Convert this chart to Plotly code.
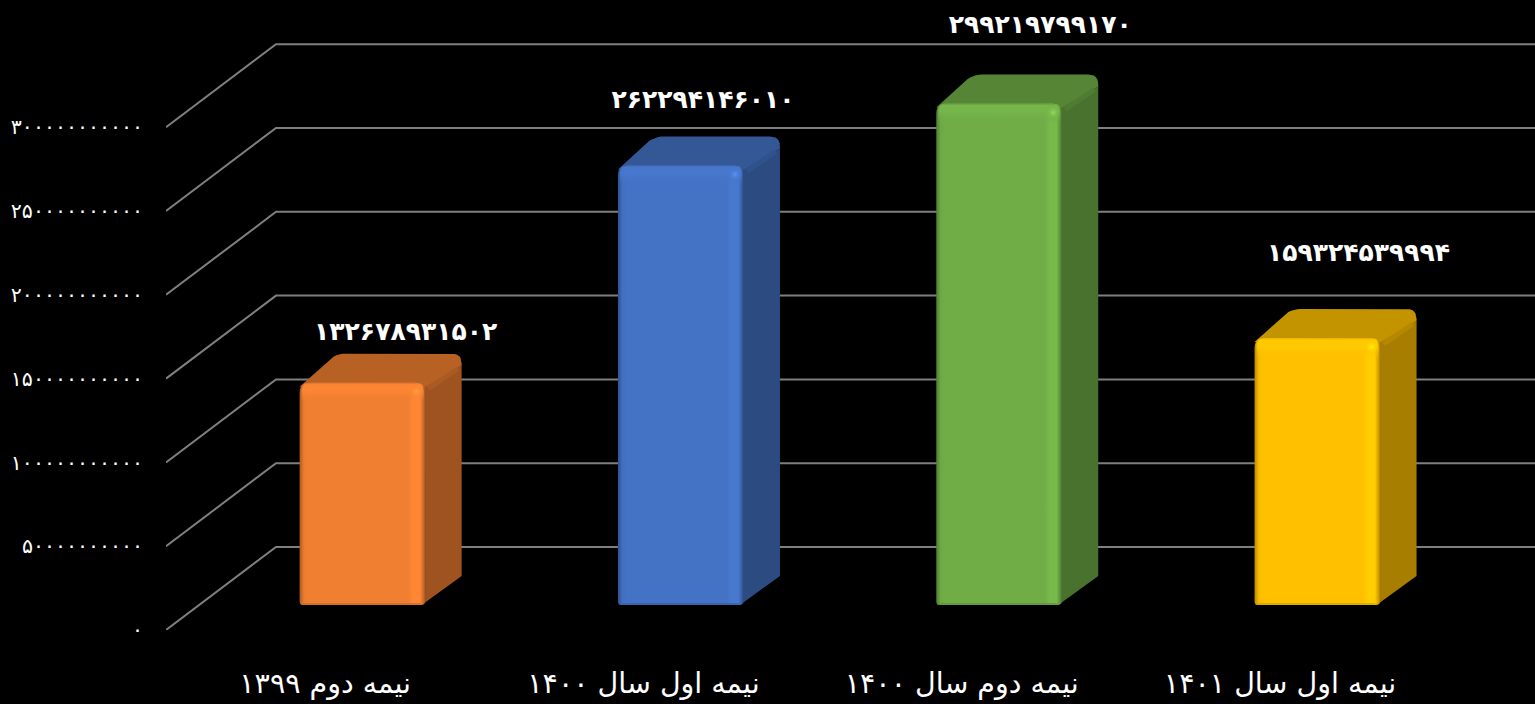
import plotly.graph_objects as go

# ---------- data ----------
categories = ["نیمه دوم ۱۳۹۹", "نیمه اول سال ۱۴۰۰", "نیمه دوم سال ۱۴۰۰", "نیمه اول سال ۱۴۰۱"]
values = [132678931502, 262294146010, 299219799170, 159324539994]
bar_colors = ["#F07F31", "#4472C4", "#70AD47", "#FFC000"]
tick_values = [0, 50000000000, 100000000000, 150000000000, 200000000000, 250000000000, 300000000000]

# ---------- geometry ----------
W, H = 1535, 704
LEFT, BOTTOM = 166, 74
X_PX = 318.3              # px per category
Y_PX = 1.676e-9           # px per value unit
WALL_DX, WALL_DY = 110, 83
BAR_DX, BAR_DY = 37.5, 25
BAR_W = 126
DEPTH_X, DEPTH_Y = 36, 29
label_dx = [43, 22, 41, 41]
label_dy = [20, 35, 48, 54]

FA = str.maketrans("0123456789", "۰۱۲۳۴۵۶۷۸۹")
def fa(v):
    return str(v).translate(FA)

def dx(px):
    return px / X_PX
def dy(px):
    return px / Y_PX

def shade(hex_c, f):
    r, g, b = int(hex_c[1:3], 16), int(hex_c[3:5], 16), int(hex_c[5:7], 16)
    return f"rgb({min(255, int(r * f))},{min(255, int(g * f))},{min(255, int(b * f))})"

def rgba(hex_c, f, a):
    return shade(hex_c, f).replace("rgb(", "rgba(").replace(")", f",{a})")

def rounded(pts, radii, n=6):
    """Closed polygon in (dx px, dy px) offsets with rounded corners."""
    out = []
    m = len(pts)
    for i, (p, r) in enumerate(zip(pts, radii)):
        a, c = pts[i - 1], pts[(i + 1) % m]
        if r == 0:
            out.append(p)
            continue
        la = ((a[0] - p[0]) ** 2 + (a[1] - p[1]) ** 2) ** 0.5
        lc = ((c[0] - p[0]) ** 2 + (c[1] - p[1]) ** 2) ** 0.5
        s = (p[0] + (a[0] - p[0]) * r / la, p[1] + (a[1] - p[1]) * r / la)
        e = (p[0] + (c[0] - p[0]) * r / lc, p[1] + (c[1] - p[1]) * r / lc)
        for k in range(n + 1):
            t = k / n
            out.append(((1 - t) ** 2 * s[0] + 2 * t * (1 - t) * p[0] + t ** 2 * e[0],
                        (1 - t) ** 2 * s[1] + 2 * t * (1 - t) * p[1] + t ** 2 * e[1]))
    out.append(out[0])
    return out

fig = go.Figure()

def poly(cx, base, pts, **kw):
    """pts are px offsets from the data anchor (cx, base); y offset upward."""
    fig.add_trace(go.Scatter(
        x=[cx + dx(p[0]) for p in pts], y=[base + dy(p[1]) for p in pts],
        mode="lines", line=dict(width=0), fill="toself", hoverinfo="skip",
        showlegend=False, **kw))

# ---------- wall grid lines ----------
x_left = -0.5
x_wall = x_left + dx(WALL_DX)
x_right = (W - LEFT) / X_PX - 0.5
grid_x, grid_y = [], []
for v in tick_values:
    grid_x += [x_left, x_wall, x_right, None]
    grid_y += [v, v + dy(WALL_DY), v + dy(WALL_DY), None]
fig.add_trace(go.Scatter(x=grid_x, y=grid_y, mode="lines",
                         line=dict(color="#7F7F7F", width=2), hoverinfo="skip", showlegend=False))

# ---------- bars ----------
for i, (v, c) in enumerate(zip(values, bar_colors)):
    cx = i + dx(BAR_DX)
    base = dy(BAR_DY)
    h = v * Y_PX
    hw = BAR_W / 2
    # side face
    poly(cx, base, [(hw - 4, 0), (hw + DEPTH_X, DEPTH_Y), (hw + DEPTH_X, h + DEPTH_Y - 12),
                    (hw - 4, h - 4), (hw - 4, 0)], fillcolor=shade(c, 0.66))
    # top face, wrapping over the back right corner
    poly(cx, base, rounded([(-hw, h - 4), (-hw + DEPTH_X, h + DEPTH_Y), (hw + DEPTH_X, h + DEPTH_Y),
                            (hw + DEPTH_X, h + DEPTH_Y - 12), (hw, h - 4)], [0, 10, 10, 0, 0]),
         fillcolor=shade(c, 0.77))
    # soft ridge where top and side meet
    fig.add_trace(go.Scatter(
        x=[cx + dx(hw + 3), cx + dx(hw + DEPTH_X - 4)], y=[base + dy(h - 6), base + dy(h + DEPTH_Y - 15)],
        mode="lines", line=dict(color=rgba(c, 0.72, 0.9), width=5),
        hoverinfo="skip", showlegend=False))
    # front face with bevelled left and right edges
    poly(cx, base, rounded([(-hw, 0), (hw, 0), (hw, h), (-hw, h)], [3, 5, 10, 10]),
         fillgradient=dict(type="horizontal", colorscale=[
             [0, shade(c, 0.72)], [0.035, shade(c, 0.98)], [0.07, c], [0.86, c],
             [0.90, shade(c, 1.07)], [0.955, shade(c, 1.07)], [0.985, shade(c, 0.82)], [1, shade(c, 0.62)]]))
    # top bevel
    poly(cx, base, rounded([(-hw + 2, h - 20), (hw - 2, h - 20), (hw - 2, h), (-hw + 2, h)], [0, 0, 9, 9]),
         fillgradient=dict(type="vertical", colorscale=[
             [0, rgba(c, 1.0, 0)], [0.6, rgba(c, 1.06, 0.9)], [0.9, rgba(c, 1.05, 1)], [1, rgba(c, 0.9, 1)]]))
    # bottom edge
    fig.add_trace(go.Scatter(
        x=[cx + dx(-hw + 3), cx + dx(hw - 5)], y=[base + dy(1), base + dy(1)],
        mode="lines", line=dict(color=shade(c, 0.85), width=1.5), hoverinfo="skip", showlegend=False))
    # corner highlight
    fig.add_trace(go.Scatter(
        x=[cx + dx(hw - 9)], y=[base + dy(h - 9)], mode="markers",
        marker=dict(size=13, color=rgba(c, 1.06, 0),
                    gradient=dict(type="radial", color=rgba(c, 1.3, 0.95)), line=dict(width=0)),
        hoverinfo="skip", showlegend=False))

# ---------- data labels ----------
fig.add_trace(go.Scatter(
    x=[i + dx(BAR_DX) + dx(o) for i, o in enumerate(label_dx)],
    y=[dy(BAR_DY) + v + dy(DEPTH_Y + o) for v, o in zip(values, label_dy)],
    text=[fa(v) for v in values], mode="text", textposition="middle center",
    textfont=dict(family="DejaVu Sans", size=25, color="white", weight="bold"),
    hoverinfo="skip", showlegend=False, cliponaxis=False))

fig.update_layout(
    width=W, height=H, autosize=False,
    paper_bgcolor="black", plot_bgcolor="black",
    margin=dict(l=LEFT, r=0, t=0, b=BOTTOM, pad=0),
    showlegend=False,
    xaxis=dict(range=[x_left, x_right], tickmode="array", tickvals=list(range(len(categories))),
               ticktext=categories, showgrid=False, zeroline=False, showline=False, ticks="",
               ticklabelstandoff=33, tickangle=0,
               tickfont=dict(family="DejaVu Sans", size=28.5, color="white")),
    yaxis=dict(range=[0, (H - BOTTOM) / Y_PX], tickmode="array", tickvals=tick_values,
               ticktext=[fa(v) for v in tick_values], showgrid=False, zeroline=False, showline=False,
               ticks="", ticklabelstandoff=22,
               tickfont=dict(family="DejaVu Sans", size=20.5, color="white")),
)

fig.write_html("out.html", config={"displayModeBar": False},
               post_script="document.body.style.margin='0';document.body.style.background='black';")
